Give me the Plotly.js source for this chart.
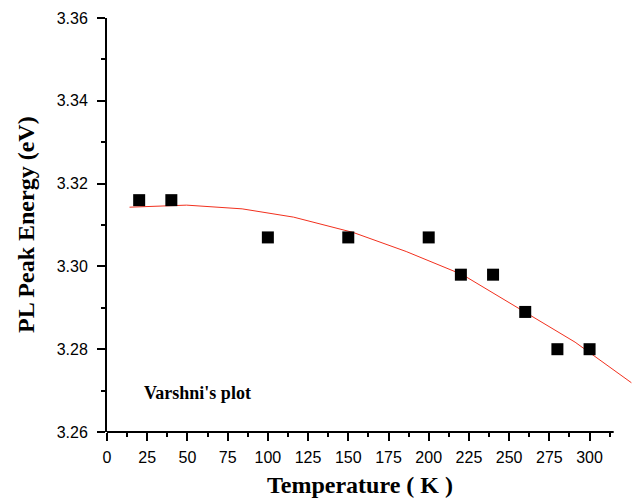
<!DOCTYPE html>
<html>
<head>
<meta charset="utf-8">
<script src="https://cdn.plot.ly/plotly-3.0.1.min.js"></script>
<style>html,body{margin:0;padding:0;background:#fff;}#chart{width:638px;height:501px;}</style>
</head>
<body>
<div id="chart"></div>
<script>
// Measured PL peak energies
const temperatureK = [20, 40, 100, 150, 200, 220, 240, 260, 280, 300];
const peakEnergyEV = [3.316, 3.316, 3.307, 3.307, 3.307, 3.298, 3.298, 3.289, 3.280, 3.280];

// Varshni fit curve
const fitT = [14, 49.5, 84, 116, 153, 186, 221, 256, 291, 326];
const fitE = [3.3143, 3.3148, 3.3139, 3.3119, 3.3082, 3.3036, 3.2980, 3.2899, 3.2817, 3.2719];

// Tick labels
const xMajorTicks = [0, 25, 50, 75, 100, 125, 150, 175, 200, 225, 250, 275, 300];
const xMinorTicks = [12.5, 37.5, 62.5, 87.5, 112.5, 137.5, 162.5, 187.5, 212.5, 237.5, 262.5, 287.5, 312.5];
const yMajorTicks = [3.26, 3.28, 3.30, 3.32, 3.34, 3.36];
const yMinorTicks = [3.27, 3.29, 3.31, 3.33, 3.35];

const xAxisEnd = 315;
const serif = 'Liberation Serif, Times New Roman, serif';
const sans = 'Liberation Sans, Arial, sans-serif';

const traces = [
  {
    x: fitT, y: fitE, type: 'scatter', mode: 'lines',
    line: {color: '#f2301e', width: 1}, hoverinfo: 'skip', showlegend: false
  },
  {
    x: temperatureK, y: peakEnergyEV, type: 'scatter', mode: 'markers',
    marker: {symbol: 'square', size: 12, color: '#000', line: {width: 0}},
    showlegend: false, cliponaxis: false
  }
];

const layout = {
  width: 638, height: 501,
  margin: {l: 107, r: 5, t: 18, b: 69},
  paper_bgcolor: '#fff', plot_bgcolor: '#fff',
  showlegend: false,
  xaxis: {
    range: [0, 327], showline: false, zeroline: false, showgrid: false,
    tickmode: 'array', tickvals: xMajorTicks,
    ticks: 'outside', ticklen: 8, tickwidth: 2, tickcolor: '#000',
    ticklabelstandoff: 3,
    tickfont: {family: sans, size: 16, color: '#000'},
    minor: {tickmode: 'array', tickvals: xMinorTicks, ticks: 'outside', ticklen: 4, tickwidth: 2, tickcolor: '#000', showgrid: false}
  },
  yaxis: {
    range: [3.26, 3.36], showline: true, linecolor: '#000', linewidth: 2,
    zeroline: false, showgrid: false,
    tickmode: 'array', tickvals: yMajorTicks, tickformat: '.2f',
    ticks: 'outside', ticklen: 8, tickwidth: 2, tickcolor: '#000',
    ticklabelstandoff: 6,
    tickfont: {family: sans, size: 16, color: '#000'},
    minor: {tickmode: 'array', tickvals: yMinorTicks, ticks: 'outside', ticklen: 4, tickwidth: 2, tickcolor: '#000', showgrid: false}
  },
  shapes: [
    {type: 'line', xref: 'x', yref: 'paper', x0: 0, x1: xAxisEnd, y0: 0, y1: 0,
     line: {color: '#000', width: 2}}
  ],
  annotations: [
    {text: 'Temperature ( K )', xref: 'x', yref: 'paper', x: xAxisEnd / 2, y: 0,
     xanchor: 'center', yanchor: 'middle', yshift: -53, showarrow: false,
     font: {family: serif, size: 24, color: '#000', weight: 'bold'}},
    {text: 'PL Peak Energy (eV)', xref: 'paper', yref: 'paper', x: 0, y: 0.5,
     xanchor: 'center', yanchor: 'middle', xshift: -81, textangle: -90, showarrow: false,
     font: {family: serif, size: 24, color: '#000', weight: 'bold'}},
    {text: "Varshni's plot", xref: 'x', yref: 'y', x: 21.7, y: 3.2694,
     xanchor: 'left', yanchor: 'middle', showarrow: false,
     font: {family: serif, size: 18, color: '#000', weight: 'bold'}}
  ]
};

Plotly.newPlot('chart', traces, layout, {displayModeBar: false, staticPlot: true});
</script>
</body>
</html>
